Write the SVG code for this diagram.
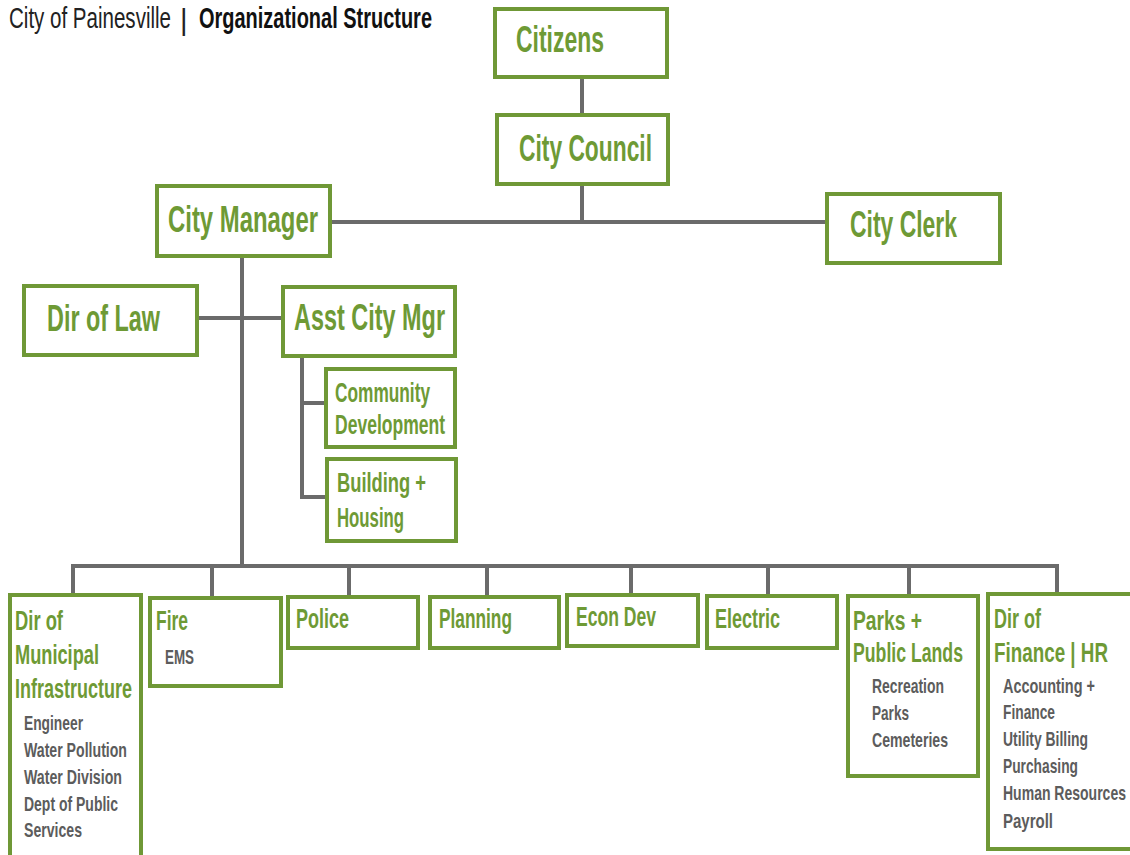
<svg xmlns="http://www.w3.org/2000/svg" width="1130" height="855" viewBox="0 0 1130 855">
<style>
text{font-family:"Liberation Sans Narrow","Liberation Sans","DejaVu Sans Condensed",sans-serif;}
.box{fill:#fff;stroke:#6f9836;stroke-width:4;}
.big{font-size:37px;font-weight:bold;fill:#6e9a35;}
.mid{font-size:28px;font-weight:bold;fill:#6e9a35;}
.sub{font-size:21px;font-weight:bold;fill:#5c5c5c;}
.conn{stroke:#6b6b6b;stroke-width:4;fill:none;stroke-linecap:square;}
</style>
<rect width="1130" height="855" fill="#fff"/>
<g id="title">
<text x="9" y="28" font-size="29" fill="#222" textLength="162" lengthAdjust="spacingAndGlyphs">City of Painesville</text>
<text x="180" y="30" font-size="29" fill="#222">|</text>
<text x="199" y="28" font-size="29" font-weight="bold" fill="#111" textLength="233" lengthAdjust="spacingAndGlyphs">Organizational Structure</text>
</g>
<g id="connectors">
<path class="conn" d="M582,77 V115"/>
<path class="conn" d="M582,184 V222"/>
<path class="conn" d="M331,222 H827"/>
<path class="conn" d="M242,256 V566"/>
<path class="conn" d="M197,318 H283"/>
<path class="conn" d="M302,356 V497"/>
<path class="conn" d="M302,403 H326"/>
<path class="conn" d="M302,497 H327"/>
<path class="conn" d="M73,595 V566 H1057 V593"/>
<path class="conn" d="M212,566 V598"/>
<path class="conn" d="M349,566 V597"/>
<path class="conn" d="M487,566 V597"/>
<path class="conn" d="M631,566 V595"/>
<path class="conn" d="M768,566 V596"/>
<path class="conn" d="M909,566 V596"/>
</g>
<g id="citizens">
<rect class="box" x="495" y="9" width="172" height="68"/>
<text class="big" x="516" y="52" textLength="88" lengthAdjust="spacingAndGlyphs">Citizens</text>
</g>
<g id="city-council">
<rect class="box" x="497" y="115" width="171" height="69"/>
<text class="big" x="519" y="161" textLength="133" lengthAdjust="spacingAndGlyphs">City Council</text>
</g>
<g id="city-manager">
<rect class="box" x="157" y="186" width="173" height="70"/>
<text class="big" x="168" y="232" textLength="150" lengthAdjust="spacingAndGlyphs">City Manager</text>
</g>
<g id="city-clerk">
<rect class="box" x="827" y="194" width="173" height="69"/>
<text class="big" x="850" y="237" textLength="107" lengthAdjust="spacingAndGlyphs">City Clerk</text>
</g>
<g id="dir-of-law">
<rect class="box" x="24" y="286" width="173" height="69"/>
<text class="big" x="47" y="331" textLength="113" lengthAdjust="spacingAndGlyphs">Dir of Law</text>
</g>
<g id="asst-city-mgr">
<rect class="box" x="283" y="287" width="172" height="69"/>
<text class="big" x="294" y="330" textLength="151" lengthAdjust="spacingAndGlyphs">Asst City Mgr</text>
</g>
<g id="community-development">
<rect class="box" x="326" y="369" width="129" height="78"/>
<text class="mid" x="335" y="402" textLength="95" lengthAdjust="spacingAndGlyphs">Community</text>
<text class="mid" x="335" y="434" textLength="110" lengthAdjust="spacingAndGlyphs">Development</text>
</g>
<g id="building-housing">
<rect class="box" x="327" y="459" width="129" height="82"/>
<text class="mid" x="337" y="492" textLength="89" lengthAdjust="spacingAndGlyphs">Building +</text>
<text class="mid" x="337" y="527" textLength="67" lengthAdjust="spacingAndGlyphs">Housing</text>
</g>
<g id="dir-municipal-infrastructure">
<rect class="box" x="10" y="595" width="131" height="262"/>
<text class="mid" x="15" y="630" textLength="48" lengthAdjust="spacingAndGlyphs">Dir of</text>
<text class="mid" x="15" y="664" textLength="84" lengthAdjust="spacingAndGlyphs">Municipal</text>
<text class="mid" x="15" y="698" textLength="117" lengthAdjust="spacingAndGlyphs">Infrastructure</text>
<text class="sub" x="24" y="730" textLength="59" lengthAdjust="spacingAndGlyphs">Engineer</text>
<text class="sub" x="24" y="757" textLength="103" lengthAdjust="spacingAndGlyphs">Water Pollution</text>
<text class="sub" x="24" y="784" textLength="98" lengthAdjust="spacingAndGlyphs">Water Division</text>
<text class="sub" x="24" y="811" textLength="94" lengthAdjust="spacingAndGlyphs">Dept of Public</text>
<text class="sub" x="24" y="837" textLength="58" lengthAdjust="spacingAndGlyphs">Services</text>
</g>
<g id="fire">
<rect class="box" x="150" y="598" width="131" height="88"/>
<text class="mid" x="156" y="630" textLength="32" lengthAdjust="spacingAndGlyphs">Fire</text>
<text class="sub" x="165" y="664" textLength="29" lengthAdjust="spacingAndGlyphs">EMS</text>
</g>
<g id="police">
<rect class="box" x="288" y="597" width="130" height="51"/>
<text class="mid" x="296" y="628" textLength="53" lengthAdjust="spacingAndGlyphs">Police</text>
</g>
<g id="planning">
<rect class="box" x="430" y="597" width="129" height="51"/>
<text class="mid" x="439" y="628" textLength="73" lengthAdjust="spacingAndGlyphs">Planning</text>
</g>
<g id="econ-dev">
<rect class="box" x="567" y="595" width="131" height="51"/>
<text class="mid" x="576" y="626" textLength="80" lengthAdjust="spacingAndGlyphs">Econ Dev</text>
</g>
<g id="electric">
<rect class="box" x="707" y="596" width="130" height="52"/>
<text class="mid" x="715" y="628" textLength="65" lengthAdjust="spacingAndGlyphs">Electric</text>
</g>
<g id="parks-public-lands">
<rect class="box" x="848" y="596" width="130" height="180"/>
<text class="mid" x="853" y="630" textLength="69" lengthAdjust="spacingAndGlyphs">Parks +</text>
<text class="mid" x="853" y="662" textLength="110" lengthAdjust="spacingAndGlyphs">Public Lands</text>
<text class="sub" x="872" y="693" textLength="72" lengthAdjust="spacingAndGlyphs">Recreation</text>
<text class="sub" x="872" y="720" textLength="37" lengthAdjust="spacingAndGlyphs">Parks</text>
<text class="sub" x="872" y="747" textLength="76" lengthAdjust="spacingAndGlyphs">Cemeteries</text>
</g>
<g id="dir-finance-hr">
<rect class="box" x="988" y="594" width="160" height="255"/>
<text class="mid" x="994" y="628" textLength="47" lengthAdjust="spacingAndGlyphs">Dir of</text>
<text class="mid" x="994" y="662" textLength="114" lengthAdjust="spacingAndGlyphs">Finance | HR</text>
<text class="sub" x="1003" y="693" textLength="92" lengthAdjust="spacingAndGlyphs">Accounting +</text>
<text class="sub" x="1003" y="719" textLength="52" lengthAdjust="spacingAndGlyphs">Finance</text>
<text class="sub" x="1003" y="746" textLength="85" lengthAdjust="spacingAndGlyphs">Utility Billing</text>
<text class="sub" x="1003" y="773" textLength="75" lengthAdjust="spacingAndGlyphs">Purchasing</text>
<text class="sub" x="1003" y="800" textLength="123" lengthAdjust="spacingAndGlyphs">Human Resources</text>
<text class="sub" x="1003" y="828" textLength="50" lengthAdjust="spacingAndGlyphs">Payroll</text>
</g>
</svg>
